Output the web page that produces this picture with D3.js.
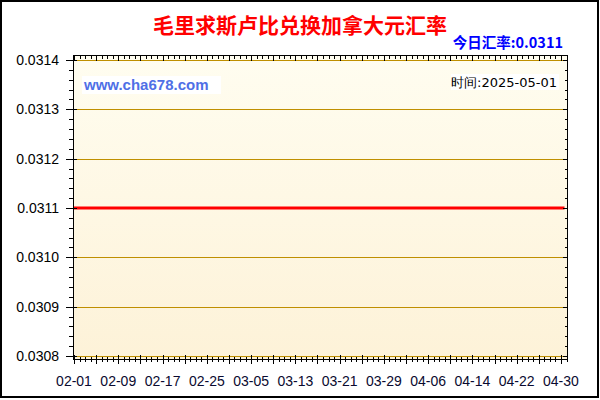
<!DOCTYPE html>
<html>
<head>
<meta charset="utf-8">
<script src="https://cdn.jsdelivr.net/npm/d3@7/dist/d3.min.js"></script>
<style>
html,body{margin:0;padding:0;background:#fff;}
svg{display:block;}
</style>
</head>
<body>
<svg id="chart" width="600" height="400"></svg>
<script>
// ---- data ----
const titleText = "毛里求斯卢比兑换加拿大元汇率";
const todayText = "今日汇率:0.0311";
const siteText = "www.cha678.com";
const timeText = "时间:2025-05-01";
const startDate = "2025-02-01";
const endDate = "2025-05-01";
const rateValues = [
  0.0311,0.0311,0.0311,0.0311,0.0311,0.0311,0.0311,0.0311,0.0311,0.0311,
  0.0311,0.0311,0.0311,0.0311,0.0311,0.0311,0.0311,0.0311,0.0311,0.0311,
  0.0311,0.0311,0.0311,0.0311,0.0311,0.0311,0.0311,0.0311,0.0311,0.0311,
  0.0311,0.0311,0.0311,0.0311,0.0311,0.0311,0.0311,0.0311,0.0311,0.0311,
  0.0311,0.0311,0.0311,0.0311,0.0311,0.0311,0.0311,0.0311,0.0311,0.0311,
  0.0311,0.0311,0.0311,0.0311,0.0311,0.0311,0.0311,0.0311,0.0311,0.0311,
  0.0311,0.0311,0.0311,0.0311,0.0311,0.0311,0.0311,0.0311,0.0311,0.0311,
  0.0311,0.0311,0.0311,0.0311,0.0311,0.0311,0.0311,0.0311,0.0311,0.0311,
  0.0311,0.0311,0.0311,0.0311,0.0311,0.0311,0.0311,0.0311,0.0311,0.0311
];
const yTicks = [0.0308,0.0309,0.0310,0.0311,0.0312,0.0313,0.0314];
const xTickLabels = ["02-01","02-09","02-17","02-25","03-05","03-13","03-21","03-29","04-06","04-14","04-22","04-30"];

// ---- setup ----
const parse = d3.timeParse("%Y-%m-%d");
const d0 = parse(startDate), d1 = parse(endDate);
const dates = d3.timeDay.range(d0, d3.timeDay.offset(d1, 1));
const data = dates.map((d, i) => ({date: d, value: rateValues[i]}));

const svg = d3.select("#chart");
const frame = {x0: 73.5, x1: 567.5, y0: 55.5, y1: 359.5};

const x = d3.scaleTime().domain([d0, d1]).range([74, 564.5]);
const y = d3.scaleLinear().domain([0.0308, 0.0314]).range([356, 60]);

// gradient background
const defs = svg.append("defs");
const grad = defs.append("linearGradient").attr("id","bg").attr("x1",0).attr("y1",0).attr("x2",0).attr("y2",1);
grad.append("stop").attr("offset","0%").attr("stop-color","#fffdf0");
grad.append("stop").attr("offset","100%").attr("stop-color","#fdf2d8");

svg.append("rect").attr("x",1).attr("y",1).attr("width",597).attr("height",396)
  .attr("fill","#fff").attr("stroke","#000").attr("stroke-width",2);

svg.append("rect").attr("x",frame.x0).attr("y",frame.y0)
  .attr("width",frame.x1-frame.x0).attr("height",frame.y1-frame.y0)
  .attr("fill","url(#bg)");

// gridlines
svg.append("g").selectAll("line").data(yTicks).join("line")
  .attr("x1",frame.x0).attr("x2",frame.x1)
  .attr("y1",d=>Math.round(y(d))+0.5).attr("y2",d=>Math.round(y(d))+0.5)
  .attr("stroke","#bf8f00").attr("stroke-width",1);

// watermark
svg.append("rect").attr("x",82).attr("y",76).attr("width",139).attr("height",18).attr("fill","#fff");
svg.append("text").attr("x",84).attr("y",90).text(siteText)
  .attr("font-family","Liberation Sans, Arial, sans-serif").attr("font-weight","bold")
  .attr("font-size",15).attr("fill","#4f6fe6");

svg.append("rect").attr("x",451).attr("y",74).attr("width",108).attr("height",16).attr("fill","#fff");
svg.append("text").attr("x",557).attr("y",87).attr("text-anchor","end").text(timeText)
  .attr("font-family","DejaVu Sans, sans-serif").attr("font-size",13).attr("fill","#000");

// line
svg.append("path").datum(data)
  .attr("d", d3.line().x(d=>x(d.date)).y(d=>y(d.value)))
  .attr("fill","none").attr("stroke","#ff0000").attr("stroke-width",3);

// frame
svg.append("rect").attr("x",frame.x0).attr("y",frame.y0)
  .attr("width",frame.x1-frame.x0).attr("height",frame.y1-frame.y0)
  .attr("fill","none").attr("stroke","#000").attr("stroke-width",1);

// ticks
const tk = svg.append("g").attr("stroke","#000").attr("stroke-width",1);
const yMinor = d3.range(0, 31).map(i => 0.0308 + i*0.00002);
yMinor.forEach((v,i) => {
  const yy = Math.round(y(v)) + 0.5;
  const major = i % 5 === 0;
  tk.append("line").attr("x1", major?66:69).attr("x2", major?77:74).attr("y1",yy).attr("y2",yy);
  tk.append("line").attr("x1", major?563:565).attr("x2", 568).attr("y1",yy).attr("y2",yy);
});
const xAxisScale = d3.scaleTime().domain([d0, d1]).range([74, 566.5]);
const xDays = d3.timeDay.range(d0, d3.timeDay.offset(d1,1));
xDays.forEach((d,i) => {
  const xx = Math.round(xAxisScale(d)) + 0.5;
  const major = i % 4 === 0;
  tk.append("line").attr("x1",xx).attr("x2",xx).attr("y1",major?355:357).attr("y2",major?364:362);
  tk.append("line").attr("x1",xx).attr("x2",xx).attr("y1",55).attr("y2",major?61:59);
});

// axes labels
svg.append("g").selectAll("text").data(yTicks).join("text")
  .attr("x",59).attr("y",d=>y(d)+5).attr("text-anchor","end")
  .attr("font-family","Liberation Sans, Arial, sans-serif").attr("font-size",14).attr("fill","#000")
  .text(d=>d3.format(".4f")(d));

const fmtMD = d3.timeFormat("%m-%d");
const labelDates = xDays.filter(d => xTickLabels.includes(fmtMD(d)));
svg.append("g").selectAll("text").data(labelDates).join("text")
  .attr("x",d=>xAxisScale(d)).attr("y",386).attr("text-anchor","middle")
  .attr("font-family","Liberation Sans, Arial, sans-serif").attr("font-size",14).attr("fill","#0a0a30")
  .text(d=>fmtMD(d));

// title
svg.append("text").attr("x",300).attr("y",33).attr("text-anchor","middle").text(titleText)
  .attr("font-family","Noto Sans CJK SC, sans-serif").attr("font-weight","bold")
  .attr("font-size",21).attr("fill","#ff0000");

svg.append("text").attr("x",563).attr("y",48).attr("text-anchor","end").text(todayText)
  .attr("font-family","Noto Sans CJK SC, Liberation Sans, sans-serif").attr("font-weight","bold")
  .attr("font-size",14.5).attr("fill","#0000ff");
</script>
</body>
</html>
